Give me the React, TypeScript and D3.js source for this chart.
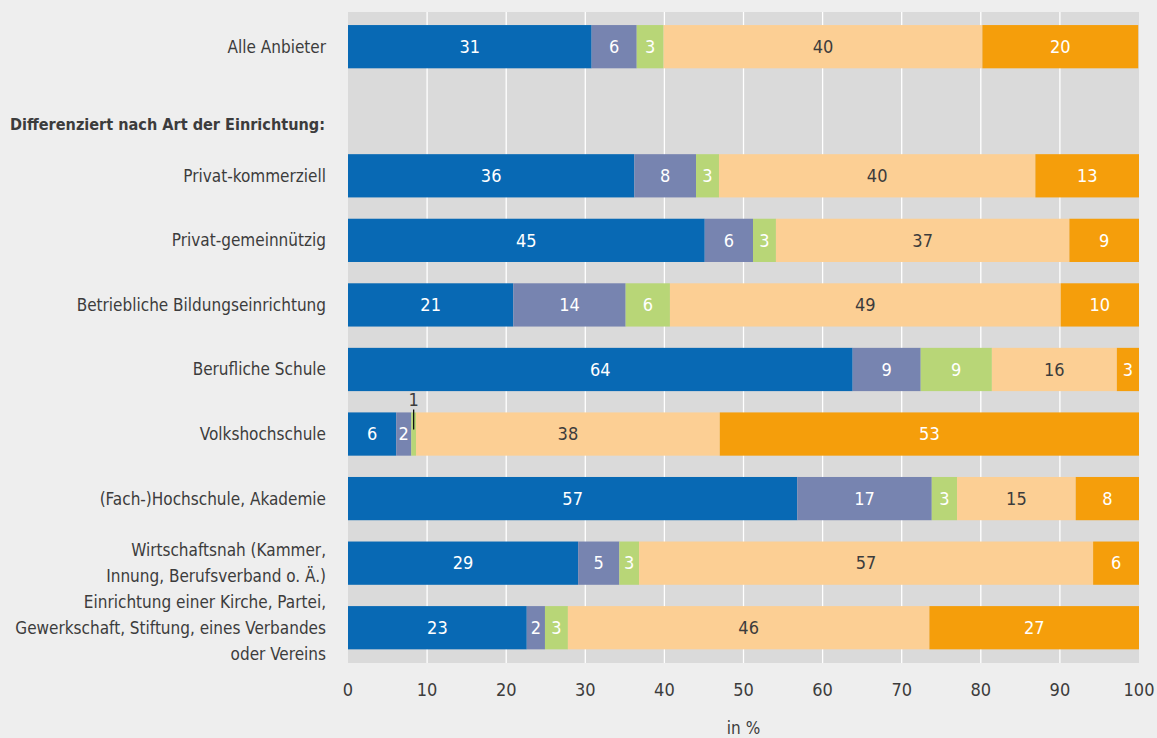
import * as d3 from "d3";

const categories: string[][] = [
  ["Alle Anbieter"],
  ["Differenziert nach Art der Einrichtung:"],
  ["Privat-kommerziell"],
  ["Privat-gemeinnützig"],
  ["Betriebliche Bildungseinrichtung"],
  ["Berufliche Schule"],
  ["Volkshochschule"],
  ["(Fach-)Hochschule, Akademie"],
  ["Wirtschaftsnah (Kammer,", "Innung, Berufsverband o. Ä.)"],
  ["Einrichtung einer Kirche, Partei,", "Gewerkschaft, Stiftung, eines Verbandes", "oder Vereins"],
];

// row 1 is the heading, it has no bar (null)
const seriesA = [30.8, null, 36.2, 45.1, 20.9, 63.8, 6.1, 56.8, 29.1, 22.6];
const seriesB = [5.7, null, 7.8, 6.1, 14.2, 8.6, 1.9, 17.0, 5.2, 2.3];
const seriesC = [3.4, null, 2.9, 2.9, 5.6, 9.0, 0.6, 3.2, 2.5, 2.9];
const seriesD = [40.3, null, 40.0, 37.1, 49.4, 15.8, 38.4, 15.0, 57.4, 45.7];
const seriesE = [19.7, null, 13.1, 8.8, 9.9, 2.8, 53.0, 8.0, 5.8, 26.5];

const seriesColors = ["#0869b4", "#7784b0", "#b8d677", "#fccf94", "#f59e0b"];
const labelColors = ["#ffffff", "#ffffff", "#ffffff", "#3c3c3c", "#ffffff"];

const xTicks = [0, 10, 20, 30, 40, 50, 60, 70, 80, 90, 100];

const W = 1157;
const H = 738;
const FONT = "'DejaVu Sans Condensed', 'Liberation Sans Narrow', sans-serif";
const TEXT = "#3c3c3c";

export default function App() {
  const plotLeft = 348;
  const plotRight = 1139;
  const plotTop = 12;
  const plotBottom = 663;

  const x = d3.scaleLinear().domain([0, 100]).range([plotLeft, plotRight]);
  const y = d3
    .scaleBand<number>()
    .domain(d3.range(categories.length))
    .range([14.4, 660])
    .paddingInner(0.33)
    .paddingOuter(0.165);

  const series = [seriesA, seriesB, seriesC, seriesD, seriesE];
  const lineH = 26;
  const fs = 17;
  const fsNum = 18;

  return (
    <div style={{ position: "fixed", left: 0, top: 0 }}>
      <svg width={W} height={H} style={{ display: "block", background: "#eeeeee" }} fontFamily={FONT}>
        <rect x={plotLeft} y={plotTop} width={plotRight - plotLeft} height={plotBottom - plotTop} fill="#dadada" />
        {xTicks.slice(1, -1).map((t) => (
          <line key={t} x1={x(t)} x2={x(t)} y1={plotTop} y2={plotBottom} stroke="#ffffff" strokeWidth={1.3} />
        ))}

        {categories.map((lines, i) => {
          const cy = (y(i) ?? 0) + y.bandwidth() / 2;
          if (i === 1) {
            // heading sits lower than the band centre
            return (
              <text
                key={i}
                x={10}
                y={cy + 13}
                dy="0.35em"
                fontSize={16.5}
                fontWeight="bold"
                fill={TEXT}
                textLength={315}
                lengthAdjust="spacingAndGlyphs"
              >
                {lines[0]}
              </text>
            );
          }
          const start = cy - ((lines.length - 1) * lineH) / 2;
          return (
            <text key={i} x={326} textAnchor="end" fontSize={fs} fill={TEXT}>
              {lines.map((l, j) => (
                <tspan key={j} x={326} y={start + j * lineH} dy="0.35em">
                  {l}
                </tspan>
              ))}
            </text>
          );
        })}

        {categories.map((_, i) => {
          if (seriesA[i] == null) return null;
          const y0 = y(i) ?? 0;
          const bh = y.bandwidth();
          let acc = 0;
          return (
            <g key={i}>
              {series.map((s, k) => {
                const v = s[i] as number;
                const x0 = x(acc);
                acc += v;
                const x1 = x(acc);
                const cx = (x0 + x1) / 2;
                const small = v < 1.5;
                return (
                  <g key={k}>
                    <rect x={x0} y={y0} width={x1 - x0} height={bh} fill={seriesColors[k]} />
                    {small ? (
                      <g>
                        <line x1={cx} x2={cx} y1={y0 - 3} y2={y0 + 17} stroke="#111" strokeWidth={1.3} />
                        <text x={cx} y={y0 - 6} textAnchor="middle" fontSize={fsNum} fill={TEXT}>
                          {Math.round(v)}
                        </text>
                      </g>
                    ) : (
                      <text
                        x={cx}
                        y={y0 + bh / 2}
                        dy="0.35em"
                        textAnchor="middle"
                        fontSize={fsNum}
                        fill={labelColors[k]}
                      >
                        {Math.round(v)}
                      </text>
                    )}
                  </g>
                );
              })}
            </g>
          );
        })}

        {xTicks.map((t) => (
          <text key={t} x={x(t)} y={690} dy="0.35em" textAnchor="middle" fontSize={fsNum} fill={TEXT}>
            {t}
          </text>
        ))}
        <text x={(plotLeft + plotRight) / 2} y={728} dy="0.35em" textAnchor="middle" fontSize={fs} fill={TEXT}>
          in %
        </text>
      </svg>
    </div>
  );
}
